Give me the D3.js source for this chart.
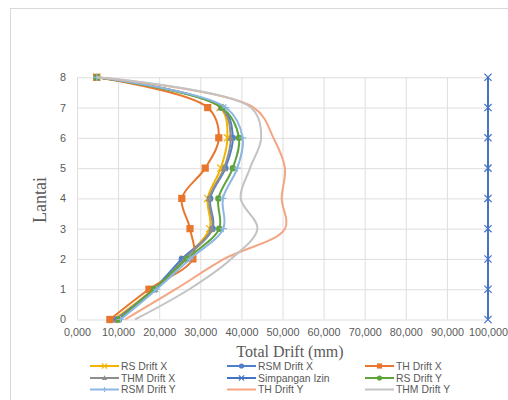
<!DOCTYPE html>
<html>
<head>
<meta charset="utf-8">
<script src="https://cdn.jsdelivr.net/npm/d3@7"></script>
<style>
  html, body { margin: 0; padding: 0; background: #fff; }
  svg { display: block; }
</style>
</head>
<body>
<svg id="chart" width="508" height="400"></svg>
<script>
// Storey levels (Lantai) and drift per storey, in mm
const floors = [0, 1, 2, 3, 4, 5, 6, 7, 8];

const rsDriftX      = [9.0, 18.5, 26.0, 32.3, 31.8, 35.0, 36.6, 34.8, 4.8];
const rsmDriftX     = [9.5, 18.6, 25.5, 33.0, 32.4, 36.1, 37.9, 35.3, 4.8];
const thDriftX      = [8.0, 17.5, 28.2, 27.5, 25.5, 31.2, 34.5, 31.8, 4.8];
const thmDriftX     = [9.8, 19.0, 26.2, 32.8, 32.2, 35.8, 37.4, 35.0, 4.8];
const simpanganIzin = [100, 100, 100, 100, 100, 100, 100, 100, 100];
const rsDriftY      = [10.2, 18.7, 26.7, 34.6, 34.4, 37.9, 39.4, 35.2, 4.8];
const rsmDriftY     = [10.6, 19.4, 27.5, 35.6, 35.5, 39.0, 40.3, 36.2, 4.8];
const thDriftY      = [11.7, 24.0, 35.8, 50.6, 49.8, 50.6, 47.8, 43.0, 4.8];
const thmDriftY     = [14.1, 27.3, 37.5, 43.9, 39.8, 42.1, 44.8, 42.3, 4.8];

const xTicks = [0, 10, 20, 30, 40, 50, 60, 70, 80, 90, 100];
const yTicks = [0, 1, 2, 3, 4, 5, 6, 7, 8];

const seriesNames = ["RS Drift X", "RSM Drift X", "TH Drift X", "THM Drift X", "Simpangan Izin",
                     "RS Drift Y", "RSM Drift Y", "TH Drift Y", "THM Drift Y"];
const seriesValues = [rsDriftX, rsmDriftX, thDriftX, thmDriftX, simpanganIzin,
                      rsDriftY, rsmDriftY, thDriftY, thmDriftY];

// Style per series: colour and marker shape
const styles = [
  { color: "#f2b400", marker: "x" },
  { color: "#4f7fc8", marker: "circle" },
  { color: "#e8762d", marker: "square" },
  { color: "#8d8d8d", marker: "triangle" },
  { color: "#4472c4", marker: "x" },
  { color: "#5fa33b", marker: "circle" },
  { color: "#8db6e3", marker: "plus" },
  { color: "#f4a582", marker: null },
  { color: "#c3c3c3", marker: null }
];

const series = seriesNames.map((name, i) => ({
  name,
  values: seriesValues[i].map((v, j) => ({ x: v, y: floors[j] })),
  ...styles[i]
}));

const svg = d3.select("#chart");

// Chart area outline
svg.append("rect")
  .attr("x", 10.5).attr("y", 8.5)
  .attr("width", 520).attr("height", 420)
  .attr("fill", "none").attr("stroke", "#d9d9d9");

const plot = { left: 77, right: 488, top: 77.3, bottom: 319.5 };

const x = d3.scaleLinear().domain([0, 100]).range([plot.left, plot.right]);
const y = d3.scaleLinear().domain([0, 8]).range([plot.bottom, plot.top]);

// Comma as decimal mark: 10 -> "10,000"
const idLocale = d3.formatLocale({ decimal: ",", thousands: ".", grouping: [3], currency: ["Rp", ""] });
const fmt = idLocale.format(".3f");

const tickFont = "Liberation Sans, Arial, sans-serif";

// X axis with vertical gridlines
const gx = svg.append("g")
  .attr("transform", `translate(0,${plot.bottom})`)
  .call(d3.axisBottom(x).tickValues(xTicks).tickFormat(fmt)
    .tickSize(-(plot.bottom - plot.top)).tickPadding(8.5));
gx.select(".domain").remove();
gx.selectAll(".tick line").attr("stroke", "#dedede");
gx.selectAll(".tick text")
  .attr("fill", "#595959").style("font-family", tickFont).style("font-size", "10.8px");

// Y axis with horizontal gridlines
const gy = svg.append("g")
  .attr("transform", `translate(${plot.left},0)`)
  .call(d3.axisLeft(y).tickValues(yTicks).tickFormat(d3.format("d"))
    .tickSize(-(plot.right - plot.left)).tickPadding(11));
gy.select(".domain").remove();
gy.selectAll(".tick line").attr("stroke", "#dedede");
gy.selectAll(".tick text")
  .attr("fill", "#595959").style("font-family", tickFont).style("font-size", "10.8px");

// Axis titles
svg.append("text")
  .attr("x", 290).attr("y", 357)
  .attr("text-anchor", "middle")
  .attr("fill", "#595959")
  .style("font-family", "Liberation Serif, Times New Roman, serif")
  .style("font-size", "16px")
  .text("Total Drift (mm)");

svg.append("text")
  .attr("transform", "translate(46,200) rotate(-90)")
  .attr("text-anchor", "middle")
  .attr("fill", "#595959")
  .style("font-family", "Liberation Serif, Times New Roman, serif")
  .style("font-size", "18px")
  .text("Lantai");

// Marker drawing helper
function drawMarker(g, shape, color, cx, cy, s) {
  if (shape === "square") {
    g.append("rect").attr("x", cx - s).attr("y", cy - s)
      .attr("width", 2 * s).attr("height", 2 * s).attr("fill", color);
  } else if (shape === "circle") {
    g.append("circle").attr("cx", cx).attr("cy", cy).attr("r", s).attr("fill", color);
  } else if (shape === "triangle") {
    g.append("path")
      .attr("d", `M${cx},${cy - s * 1.1}L${cx + s},${cy + s * 0.8}L${cx - s},${cy + s * 0.8}Z`)
      .attr("fill", color);
  } else if (shape === "x") {
    g.append("path")
      .attr("d", `M${cx - s},${cy - s}L${cx + s},${cy + s}M${cx - s},${cy + s}L${cx + s},${cy - s}`)
      .attr("stroke", color).attr("stroke-width", 1.2).attr("fill", "none");
  } else if (shape === "plus") {
    g.append("path")
      .attr("d", `M${cx - s},${cy}L${cx + s},${cy}M${cx},${cy - s}L${cx},${cy + s}`)
      .attr("stroke", color).attr("stroke-width", 1.2).attr("fill", "none");
  }
}

const markerSize = { square: 3.6, circle: 3.2, triangle: 3.6, x: 3.6, plus: 3.6 };

const line = d3.line()
  .x(d => x(d.x))
  .y(d => y(d.y))
  .curve(d3.curveCatmullRom.alpha(0.5));

const linesG = svg.append("g");
series.forEach(s => {
  const g = linesG.append("g");
  g.append("path")
    .datum(s.values)
    .attr("d", line)
    .attr("fill", "none")
    .attr("stroke", s.color)
    .attr("stroke-width", 2)
    .attr("stroke-linejoin", "round");
  if (s.marker) {
    s.values.forEach(d => drawMarker(g, s.marker, s.color, x(d.x), y(d.y), markerSize[s.marker]));
  }
});

// Legend: three columns, three rows
const legendCols = [90, 227, 365];
const legendRows = [366, 378, 389.5];
const legend = svg.append("g");
series.forEach((s, i) => {
  const lx = legendCols[i % 3];
  const ly = legendRows[Math.floor(i / 3)];
  const g = legend.append("g");
  g.append("line")
    .attr("x1", lx).attr("x2", lx + 29)
    .attr("y1", ly).attr("y2", ly)
    .attr("stroke", s.color).attr("stroke-width", 2);
  if (s.marker) drawMarker(g, s.marker, s.color, lx + 14.5, ly, 2.6);
  g.append("text")
    .attr("x", lx + 31).attr("y", ly + 3.7)
    .attr("fill", "#595959")
    .style("font-family", tickFont)
    .style("font-size", "10.4px")
    .text(s.name);
});
</script>
</body>
</html>
